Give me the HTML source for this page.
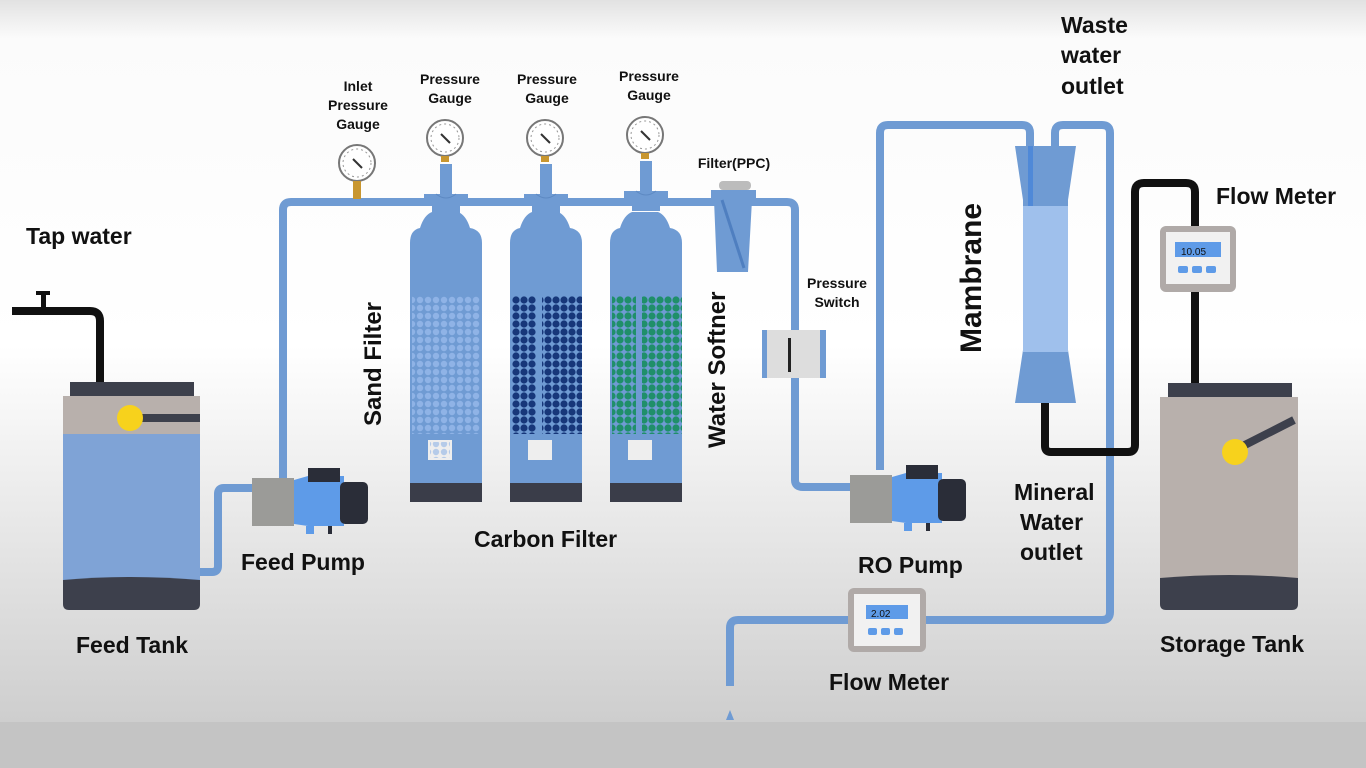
<!DOCTYPE html>
<html><head><meta charset="utf-8"><style>
html,body{margin:0;padding:0;width:1366px;height:768px;overflow:hidden}
svg{display:block}
text{font-family:"Liberation Sans",sans-serif;font-weight:bold;fill:#111}
</style></head><body>
<svg width="1366" height="768" viewBox="0 0 1366 768" xmlns="http://www.w3.org/2000/svg">
<defs>
<linearGradient id="bg" x1="0" y1="0" x2="0" y2="1">
<stop offset="0" stop-color="#e2e2e2"/><stop offset="0.05" stop-color="#fbfbfb"/>
<stop offset="0.45" stop-color="#ffffff"/><stop offset="0.93" stop-color="#cfcfcf"/><stop offset="1" stop-color="#c8c8c8"/>
</linearGradient>
<pattern id="pSand" width="8" height="8" patternUnits="userSpaceOnUse"><circle cx="4" cy="4" r="3.2" fill="#8fb3e6"/></pattern>
<pattern id="pCarb" width="8" height="8" patternUnits="userSpaceOnUse"><circle cx="4" cy="4" r="3.6" fill="#17377a"/></pattern>
<pattern id="pSoft" width="8" height="8" patternUnits="userSpaceOnUse"><circle cx="4" cy="4" r="3.6" fill="#1f8f6a"/></pattern>
<g id="gauge"><circle r="18" fill="#fff" stroke="#777" stroke-width="2"/><circle r="14" fill="none" stroke="#999" stroke-width="1" stroke-dasharray="2 3"/><line x1="-4" y1="-4" x2="5" y2="5" stroke="#333" stroke-width="2"/><rect x="-4" y="18" width="8" height="6" fill="#c8962f"/></g>
<g id="head"><rect x="-6" y="-44" width="12" height="34" fill="#6f9bd3"/><path d="M-22 -14 H22 V-2 H14 V6 H-14 V-2 H-22Z" fill="#6f9bd3"/><path d="M-10 -14 q10 8 20 0" stroke="#5d89c2" fill="none"/></g>
<g id="pump"><rect x="0" y="0" width="42" height="48" fill="#9b9b98"/><path d="M42 2 L56 -2 H92 V48 H56 L42 46Z" fill="#5e9be8"/><rect x="56" y="-10" width="32" height="14" fill="#2a2d38"/><rect x="88" y="4" width="28" height="42" rx="5" fill="#2a2d38"/><rect x="54" y="48" width="8" height="8" fill="#5e9be8"/><rect x="76" y="48" width="4" height="8" fill="#2a2d38"/></g>
</defs>
<rect width="1366" height="768" fill="url(#bg)"/>
<rect y="722" width="1366" height="46" fill="#c4c4c4"/>

<g fill="none" stroke="#6f9bd3" stroke-width="8" stroke-linejoin="round">
<path d="M200 572 H212 Q218 572 218 566 V494 Q218 488 224 488 H252"/>
<path d="M283 478 V210 Q283 202 291 202 H787 Q795 202 795 210 V480 Q795 487 803 487 H852"/>
<path d="M880 470 V133 Q880 125 888 125 H1022 Q1030 125 1030 133 V160"/>
<path d="M1055 160 V133 Q1055 125 1063 125 H1102 Q1110 125 1110 133 V612 Q1110 620 1102 620 H925"/>
<path d="M848 620 H738 Q730 620 730 628 V686"/>
</g>
<path d="M726 720 L730 710 L734 720Z" fill="#6f9bd3"/>
<g fill="none" stroke="#111" stroke-width="8" stroke-linejoin="round">
<path d="M12 311 H90 Q100 311 100 321 V382"/>
<path d="M1045 400 V446 Q1045 452 1051 452 H1128 Q1135 452 1135 445 V192 Q1135 183 1144 183 H1186 Q1195 183 1195 192 V385"/>
</g>
<rect x="36" y="291" width="14" height="4" fill="#111"/><rect x="41" y="291" width="5" height="18" fill="#111"/>

<rect x="70" y="382" width="124" height="16" fill="#3d404c"/>
<rect x="63" y="396" width="137" height="40" fill="#b8b0ac"/>
<rect x="63" y="434" width="137" height="150" fill="#7fa3d6"/>
<path d="M63 580 Q130 574 200 580 V604 Q200 610 194 610 H69 Q63 610 63 604Z" fill="#3d404c"/>
<rect x="130" y="414" width="70" height="8" fill="#3d404c"/>
<circle cx="130" cy="418" r="13" fill="#f7d21c"/>

<use href="#pump" x="252" y="478"/>
<use href="#pump" x="850" y="475"/>

<use href="#gauge" x="357" y="163"/><rect x="353" y="187" width="8" height="12" fill="#c8962f"/>
<use href="#gauge" x="445" y="138"/>
<use href="#gauge" x="545" y="138"/>
<use href="#gauge" x="645" y="135"/>

<g>
<path d="M410 243 Q410 230 420 228 Q424 215 432 212 H458 Q466 215 470 228 Q482 230 482 243 V490 H410Z" fill="#6f9bd3"/>
<rect x="412" y="296" width="68" height="138" fill="url(#pSand)"/>
<rect x="428" y="440" width="24" height="20" fill="#eee"/><rect x="430" y="442" width="20" height="16" fill="url(#pSand)" opacity="0.6"/>
<rect x="410" y="483" width="72" height="19" fill="#3a3d49"/>
<use href="#head" x="446" y="208"/>
</g>
<g>
<path d="M510 243 Q510 230 520 228 Q524 215 532 212 H558 Q566 215 570 228 Q582 230 582 243 V490 H510Z" fill="#6f9bd3"/>
<rect x="512" y="296" width="24" height="138" fill="url(#pCarb)"/><rect x="542" y="296" width="40" height="138" fill="url(#pCarb)"/>
<rect x="528" y="440" width="24" height="20" fill="#eee"/>
<rect x="510" y="483" width="72" height="19" fill="#3a3d49"/>
<use href="#head" x="546" y="208"/>
</g>
<g>
<path d="M610 243 Q610 230 620 228 Q624 215 632 212 H658 Q666 215 670 228 Q682 230 682 243 V490 H610Z" fill="#6f9bd3"/>
<rect x="612" y="296" width="24" height="138" fill="url(#pSoft)"/><rect x="642" y="296" width="40" height="138" fill="url(#pSoft)"/>
<rect x="628" y="440" width="24" height="20" fill="#eee"/>
<rect x="610" y="483" width="72" height="19" fill="#3a3d49"/>
<use href="#head" x="646" y="205"/>
</g>

<rect x="719" y="181" width="32" height="9" rx="4" fill="#bcbcbc"/>
<path d="M711 190 H756 V200 H752 L748 272 H717 L714 200 H711Z" fill="#6f9bd3"/>
<path d="M722 200 L744 268" stroke="#4f7fc0" stroke-width="3"/>

<rect x="762" y="330" width="64" height="48" fill="#ddd"/>
<rect x="762" y="330" width="5" height="48" fill="#6f9bd3"/><rect x="820" y="330" width="6" height="48" fill="#6f9bd3"/>
<rect x="788" y="338" width="3" height="34" fill="#222"/>

<path d="M1015 146 H1076 L1068 200 V350 L1076 403 H1015 L1023 350 V200Z" fill="#6f9bd3"/>
<rect x="1023" y="206" width="45" height="146" fill="#9fc0ec"/>
<rect x="1028" y="146" width="5" height="60" fill="#4f89d8"/>

<rect x="1160" y="226" width="76" height="66" rx="6" fill="#b0aaa8"/><rect x="1166" y="232" width="64" height="52" fill="#f1f1f1"/>
<rect x="1175" y="242" width="46" height="15" fill="#5e9be8"/>
<text x="1181" y="255" font-size="10" style="font-weight:normal">10.05</text>
<rect x="1178" y="266" width="10" height="7" rx="2" fill="#5e9be8"/><rect x="1192" y="266" width="10" height="7" rx="2" fill="#5e9be8"/><rect x="1206" y="266" width="10" height="7" rx="2" fill="#5e9be8"/>
<rect x="848" y="588" width="78" height="64" rx="6" fill="#b0aaa8"/><rect x="854" y="594" width="66" height="52" fill="#f1f1f1"/>
<rect x="866" y="605" width="42" height="14" fill="#5e9be8"/>
<text x="871" y="617" font-size="10" style="font-weight:normal">2.02</text>
<rect x="868" y="628" width="9" height="7" rx="2" fill="#5e9be8"/><rect x="881" y="628" width="9" height="7" rx="2" fill="#5e9be8"/><rect x="894" y="628" width="9" height="7" rx="2" fill="#5e9be8"/>

<rect x="1168" y="383" width="124" height="16" fill="#3d404c"/>
<rect x="1160" y="397" width="138" height="186" fill="#b8b0ac"/>
<path d="M1160 578 Q1229 572 1298 578 V604 Q1298 610 1292 610 H1166 Q1160 610 1160 604Z" fill="#3d404c"/>
<path d="M1235 450 L1294 420" stroke="#3d404c" stroke-width="8"/>
<circle cx="1235" cy="452" r="13" fill="#f7d21c"/>

<g font-size="23">
<text x="26" y="244">Tap water</text>
<text x="76" y="653">Feed Tank</text>
<text x="241" y="570">Feed Pump</text>
<text x="474" y="547">Carbon Filter</text>
<text x="858" y="573">RO Pump</text>
<text x="829" y="690">Flow Meter</text>
<text x="1160" y="652">Storage Tank</text>
<text x="1216" y="204">Flow Meter</text>
<text x="1014" y="500">Mineral</text>
<text x="1020" y="530">Water</text>
<text x="1020" y="560">outlet</text>
<text x="1061" y="33">Waste</text>
<text x="1061" y="63">water</text>
<text x="1061" y="94">outlet</text>
</g>
<g font-size="24">
<text transform="translate(381 426) rotate(-90)">Sand Filter</text>
<text transform="translate(725 448) rotate(-90)">Water Softner</text>
</g>
<text transform="translate(981 353) rotate(-90)" font-size="30">Mambrane</text>
<g font-size="14" text-anchor="middle">
<text x="358" y="91">Inlet</text><text x="358" y="110">Pressure</text><text x="358" y="129">Gauge</text>
<text x="450" y="84">Pressure</text><text x="450" y="103">Gauge</text>
<text x="547" y="84">Pressure</text><text x="547" y="103">Gauge</text>
<text x="649" y="81">Pressure</text><text x="649" y="100">Gauge</text>
<text x="734" y="168">Filter(PPC)</text>
<text x="837" y="288">Pressure</text><text x="837" y="307">Switch</text>
</g>
</svg>
</body></html>
